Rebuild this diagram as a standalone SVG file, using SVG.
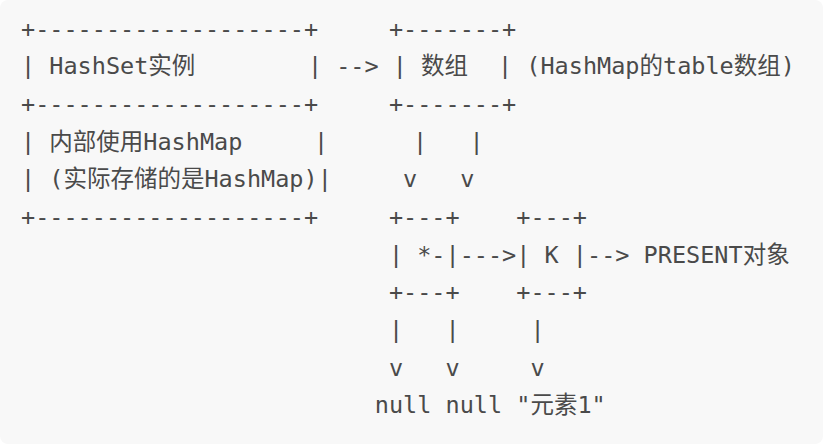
<svg xmlns="http://www.w3.org/2000/svg" width="823" height="444" viewBox="0 0 823 444">
<style>
.t{font-family:"DejaVu Sans Mono","Noto Sans CJK SC",monospace;font-size:23.5px;fill:#4a4a4a}
</style>
<rect x="0" y="0" width="823" height="444" rx="8" ry="8" fill="#f8f8f8"/>
<g id="hashset" class="t">
<text x="21" y="36.6">+-------------------+</text>
<text x="21" y="74.3">| HashSet实例</text>
<text x="307.9" y="74.3">|</text>
<text x="21" y="112">+-------------------+</text>
<text x="21" y="149.6">| 内部使用HashMap</text>
<text x="313.9" y="149.6">|</text>
<text x="21" y="187.3">| (实际存储的是HashMap)|</text>
<text x="21" y="225">+-------------------+</text>
</g>
<g id="connectors" class="t">
<text x="336.2" y="74.3">--&gt;</text>
<text x="412.9" y="149.6">|</text>
<text x="469.6" y="149.6">|</text>
<text x="402.9" y="187.3">v</text>
<text x="460.2" y="187.3">v</text>
<text x="459.65" y="262.7">---&gt;</text>
<text x="587" y="262.7">--&gt;</text>
<text x="388.9" y="338">|</text>
<text x="445.5" y="338">|</text>
<text x="530.4" y="338">|</text>
<text x="388.9" y="375.7">v</text>
<text x="445.5" y="375.7">v</text>
<text x="530.4" y="375.7">v</text>
</g>
<g id="array" class="t">
<text x="388.9" y="36.6">+-------+</text>
<text x="392.8" y="74.3">| 数组</text>
<text x="498" y="74.3">| (HashMap的table数组)</text>
<text x="388.9" y="112">+-------+</text>
</g>
<g id="entry" class="t">
<text x="388.9" y="225">+---+</text>
<text x="388.9" y="262.7">| *-|</text>
<text x="388.9" y="300.4">+---+</text>
</g>
<g id="key" class="t">
<text x="516.25" y="225">+---+</text>
<text x="516.25" y="262.7">| K |</text>
<text x="516.25" y="300.4">+---+</text>
</g>
<g id="present" class="t">
<text x="643.6" y="262.7">PRESENT对象</text>
</g>
<g id="values" class="t">
<text x="374.75" y="413.4">null null "元素1"</text>
</g>
</svg>
